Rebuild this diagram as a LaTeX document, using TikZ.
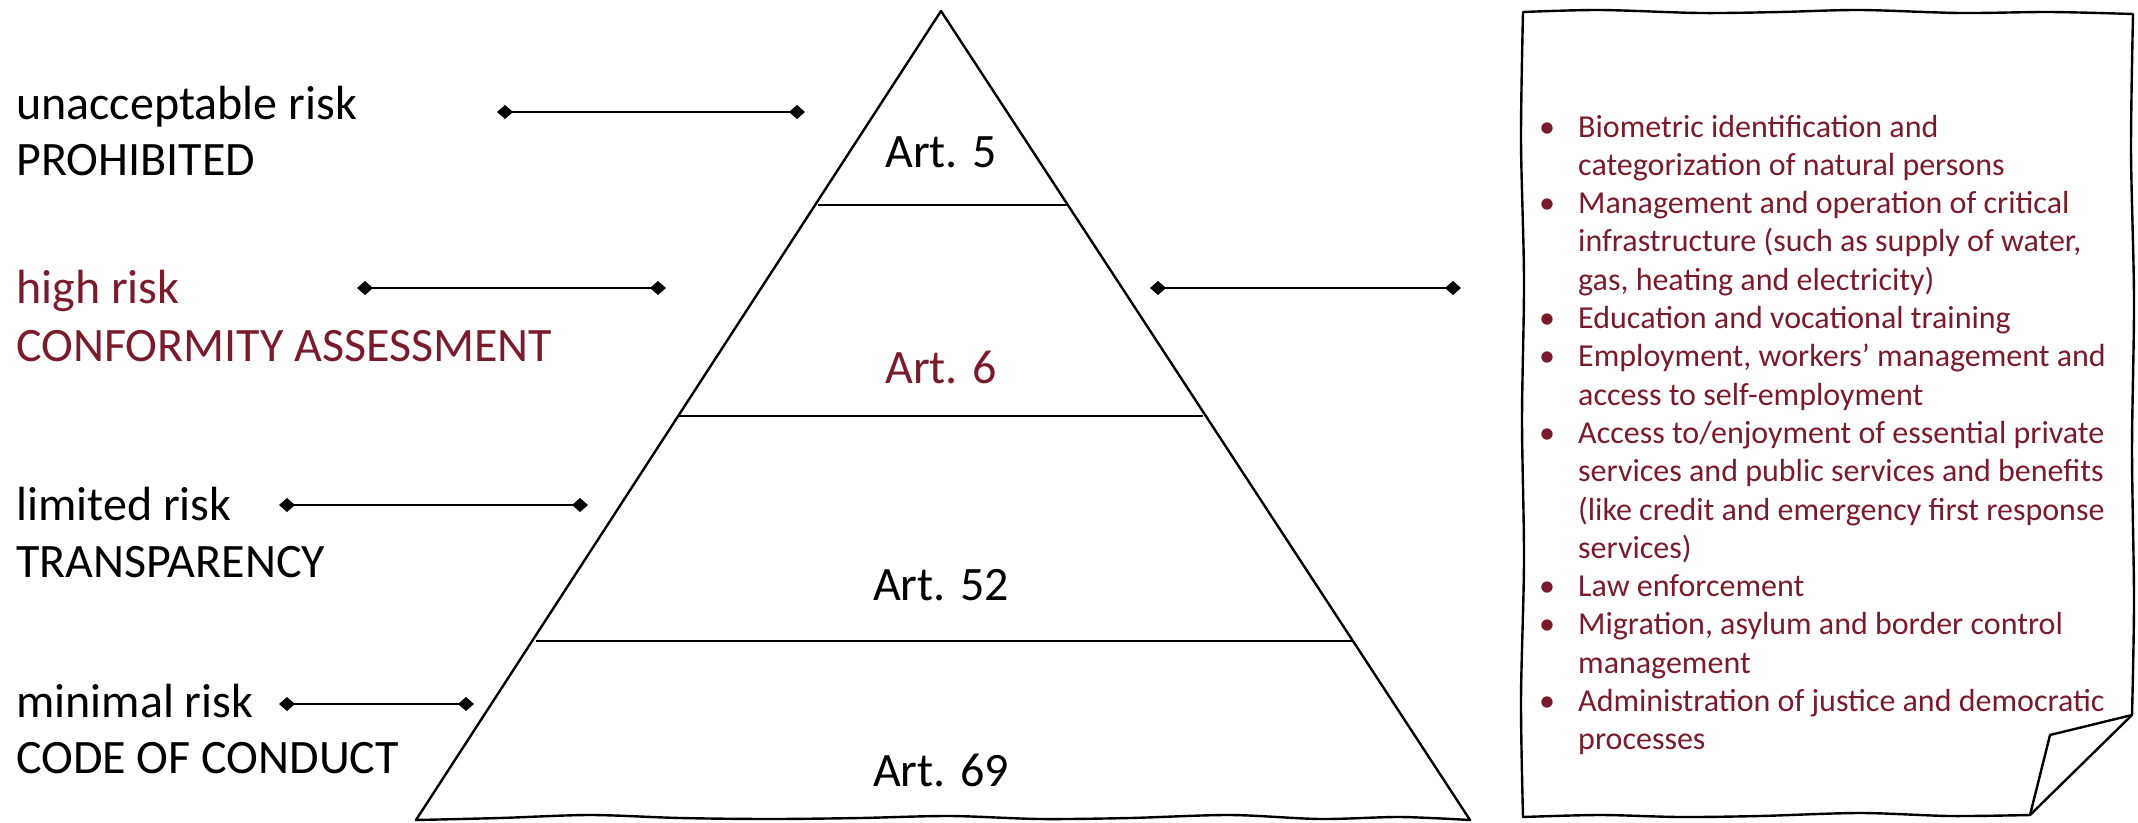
\documentclass[tikz,border=0pt]{standalone}
\usepackage{fontspec}
\setmainfont{Carlito}
\usetikzlibrary{arrows.meta}
\definecolor{dred}{RGB}{122,27,43}
\tikzset{
  big/.style={font=\fontsize{48}{58}\selectfont, inner sep=0pt},
  lbl/.style={big, anchor=base west},
  artlbl/.style={big, anchor=base},
  itm/.style={font=\fontsize{32}{38}\selectfont, inner sep=0pt, anchor=base west, text=dred},
  bul/.style={font=\fontsize{32}{38}\selectfont, inner sep=0pt, anchor=base, text=dred},
  conn/.style={line width=2.6pt, {Diamond[length=16pt,width=14pt]}-{Diamond[length=16pt,width=14pt]}},
  outline/.style={line width=2.4pt, line join=round},
  divider/.style={line width=1.5pt}
}
\begin{document}
\begin{tikzpicture}[x=1pt,y=-1pt]
\useasboundingbox (0,0) rectangle (2138,822);
% pyramid
\draw[outline] (941,11) -- (416,820)
  -- plot[smooth] coordinates {(416,820) (500,818) (590,815) (680,818) (770,819) (860,818) (950,816) (1040,819) (1130,818) (1230,815) (1320,819) (1400,817) (1470,820)}
  -- cycle;
\draw[divider] (818,205) -- (1068,205);
\draw[divider] (678,416) -- (1203,416);
\draw[divider] (536,641) -- (1352,641);
% art labels
\node[artlbl] (a5) at (941,167) {Art. 5};
\node[artlbl, text=dred] (a6) at (941,383) {Art. 6};
\node[artlbl] (a52) at (941,600) {Art. 52};
\node[artlbl] (a69) at (941,786) {Art. 69};
% left labels
\node[lbl] (t1) at (16,119) {unacceptable risk};
\node[lbl] (t2) at (16,175) {PROHIBITED};
\node[lbl, text=dred] (t3) at (16,303) {high risk};
\node[lbl, text=dred] (t4) at (16,361) {CONFORMITY ASSESSMENT};
\node[lbl] (t5) at (16,520) {limited risk};
\node[lbl] (t6) at (16,577) {TRANSPARENCY};
\node[lbl] (t7) at (16,717) {minimal risk};
\node[lbl] (t8) at (16,773) {CODE OF CONDUCT};
% connectors
\coordinate (c1a) at (497,112); \coordinate (c1b) at (805,112);
\coordinate (c2a) at (357,288); \coordinate (c2b) at (666,288);
\coordinate (c3a) at (279,505); \coordinate (c3b) at (588,505);
\coordinate (c4a) at (279,704); \coordinate (c4b) at (474,704);
\coordinate (c5a) at (1150,288); \coordinate (c5b) at (1461,288);
\draw[conn] (c1a) -- (c1b);
\draw[conn] (c2a) -- (c2b);
\draw[conn] (c3a) -- (c3b);
\draw[conn] (c4a) -- (c4b);
\draw[conn] (c5a) -- (c5b);
% note box
\draw[outline]
  plot[smooth] coordinates {(1523,12) (1600,10) (1700,13) (1780,12) (1860,10) (1960,13) (2050,12) (2133,14)}
  -- plot[smooth] coordinates {(2133,14) (2131,150) (2134,300) (2132,450) (2134,600) (2132,715)}
  -- (2030,815)
  -- plot[smooth] coordinates {(2030,815) (1950,816) (1860,813) (1760,816) (1680,817) (1600,815) (1523,817)}
  -- plot[smooth] coordinates {(1523,817) (1521,700) (1524,560) (1522,420) (1524,280) (1521,140) (1523,12)}
  -- cycle;
\draw[outline] (2132,715) -- (2050,735) -- (2030,815);
% bullets
\foreach \i in {1,3,6,7,9,13,14,16}
  \node[bul] (b\i) at (1547,{137+38.3*(\i-1)}) {\textbullet};
% items
\node[itm] (r1) at (1578,137) {Biometric identification and};
\node[itm] (r2) at (1578,175.3) {categorization of natural persons};
\node[itm] (r3) at (1578,213.6) {Management and operation of critical};
\node[itm] (r4) at (1578,251.9) {infrastructure (such as supply of water,};
\node[itm] (r5) at (1578,290.2) {gas, heating and electricity)};
\node[itm] (r6) at (1578,328.5) {Education and vocational training};
\node[itm] (r7) at (1578,366.8) {Employment, workers’ management and};
\node[itm] (r8) at (1578,405.1) {access to self-employment};
\node[itm] (r9) at (1578,443.4) {Access to/enjoyment of essential private};
\node[itm] (r10) at (1578,481.7) {services and public services and benefits};
\node[itm] (r11) at (1578,520) {(like credit and emergency first response};
\node[itm] (r12) at (1578,558.3) {services)};
\node[itm] (r13) at (1578,596.6) {Law enforcement};
\node[itm] (r14) at (1578,634.9) {Migration, asylum and border control};
\node[itm] (r15) at (1578,673.2) {management};
\node[itm] (r16) at (1578,711.5) {Administration of justice and democratic};
\node[itm] (r17) at (1578,749.8) {processes};
\end{tikzpicture}
\end{document}
